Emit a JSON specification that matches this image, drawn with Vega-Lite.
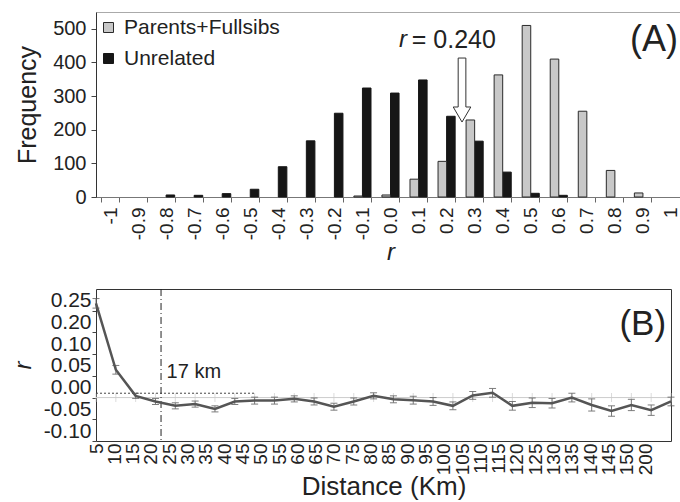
{
  "$schema": "https://vega.github.io/schema/vega-lite/v6.json",
  "padding": {"left": 10, "top": 11, "right": 0, "bottom": 0},
  "config": {"font": "Liberation Sans", "view": {"stroke": null}},
  "spacing": 22,
  "vconcat": [
    {
      "width": 589,
      "height": 185,
      "view": {"stroke": "#aaaaaa"},
      "resolve": {"scale": {"x": "independent"}, "axis": {"x": "independent", "y": "independent"}},
      "layer": [
        {
          "data": {"values": [
            {"bin": "-0.8", "group": "Unrelated", "freq": 6},
            {"bin": "-0.7", "group": "Unrelated", "freq": 5},
            {"bin": "-0.6", "group": "Unrelated", "freq": 10},
            {"bin": "-0.5", "group": "Unrelated", "freq": 23},
            {"bin": "-0.4", "group": "Unrelated", "freq": 90},
            {"bin": "-0.3", "group": "Unrelated", "freq": 167},
            {"bin": "-0.2", "group": "Unrelated", "freq": 249},
            {"bin": "-0.1", "group": "Unrelated", "freq": 324},
            {"bin": "0.0", "group": "Unrelated", "freq": 309},
            {"bin": "0.1", "group": "Unrelated", "freq": 348},
            {"bin": "0.2", "group": "Unrelated", "freq": 240},
            {"bin": "0.3", "group": "Unrelated", "freq": 166},
            {"bin": "0.4", "group": "Unrelated", "freq": 74},
            {"bin": "0.5", "group": "Unrelated", "freq": 11},
            {"bin": "0.6", "group": "Unrelated", "freq": 5},
            {"bin": "-0.1", "group": "Parents+Fullsibs", "freq": 3},
            {"bin": "0.0", "group": "Parents+Fullsibs", "freq": 6},
            {"bin": "0.1", "group": "Parents+Fullsibs", "freq": 53},
            {"bin": "0.2", "group": "Parents+Fullsibs", "freq": 106},
            {"bin": "0.3", "group": "Parents+Fullsibs", "freq": 229},
            {"bin": "0.4", "group": "Parents+Fullsibs", "freq": 363},
            {"bin": "0.5", "group": "Parents+Fullsibs", "freq": 510},
            {"bin": "0.6", "group": "Parents+Fullsibs", "freq": 410},
            {"bin": "0.7", "group": "Parents+Fullsibs", "freq": 255},
            {"bin": "0.8", "group": "Parents+Fullsibs", "freq": 79},
            {"bin": "0.9", "group": "Parents+Fullsibs", "freq": 12}
          ]},
          "mark": {"type": "bar", "strokeWidth": 1},
          "encoding": {
            "x": {
              "field": "bin", "type": "nominal",
              "scale": {"domain": ["-1","-0.9","-0.8","-0.7","-0.6","-0.5","-0.4","-0.3","-0.2","-0.1","0.0","0.1","0.2","0.3","0.4","0.5","0.6","0.7","0.8","0.9","1"], "paddingInner": 0.39, "paddingOuter": 0.195},
              "axis": {"labelAngle": 270, "labelFontSize": 19, "labelColor": "#222", "labelPadding": 5, "labelOverlap": false, "tickBand": "extent", "tickSize": 5, "tickColor": "#666", "domainColor": "#777", "title": "r", "titleFontStyle": "italic", "titleFontSize": 24, "titleFontWeight": "normal", "titleColor": "#222", "titlePadding": 1}
            },
            "xOffset": {"field": "group", "type": "nominal", "scale": {"domain": ["Parents+Fullsibs", "Unrelated"], "paddingInner": 0, "paddingOuter": 0}},
            "y": {
              "field": "freq", "type": "quantitative",
              "scale": {"domain": [0, 550], "nice": false},
              "axis": {"values": [0, 100, 200, 300, 400, 500], "labelOverlap": false, "labelFlush": false, "labelFontSize": 20, "labelColor": "#222", "labelPadding": 5, "tickSize": 5, "tickColor": "#444", "domainColor": "#333", "grid": false, "title": "Frequency", "titleFontSize": 25, "titleFontWeight": "normal", "titleColor": "#222", "titlePadding": 12}
            },
            "fill": {
              "field": "group", "type": "nominal",
              "scale": {"domain": ["Parents+Fullsibs", "Unrelated"], "range": ["#c8c8c8", "#161616"]},
              "legend": {"orient": "none", "legendX": 2, "legendY": 5, "title": null, "symbolType": "square", "symbolSize": 100, "symbolStrokeColor": "#333", "symbolStrokeWidth": 1, "labelFontSize": 21, "labelColor": "#222", "labelOffset": 5, "rowPadding": 9, "padding": 0}
            },
            "stroke": {
              "field": "group", "type": "nominal",
              "scale": {"domain": ["Parents+Fullsibs", "Unrelated"], "range": ["#2a2a2a", "#161616"]},
              "legend": null
            }
          }
        },
        {
          "data": {"values": [{"rv": 0.255, "f": 318}]},
          "mark": {"type": "point", "shape": "M-0.12,-1L0.12,-1L0.12,0.53L0.275,0.53L0,1L-0.275,0.53L-0.12,0.53Z", "size": 4096, "filled": true, "fill": "white", "stroke": "#333", "strokeWidth": 1, "opacity": 1},
          "encoding": {
            "x": {"field": "rv", "type": "quantitative", "scale": {"domain": [-1.05, 1.05], "nice": false, "zero": false}, "axis": null},
            "y": {"field": "f", "type": "quantitative", "axis": null}
          }
        },
        {
          "data": {"values": [{"rv": 0.03, "f": 468, "t": "r"}]},
          "mark": {"type": "text", "fontSize": 24, "fontStyle": "italic", "align": "left", "baseline": "middle", "color": "#222"},
          "encoding": {
            "x": {"field": "rv", "type": "quantitative", "scale": {"domain": [-1.05, 1.05], "nice": false, "zero": false}, "axis": null},
            "y": {"field": "f", "type": "quantitative", "axis": null},
            "text": {"field": "t"}
          }
        },
        {
          "data": {"values": [{"rv": 0.076, "f": 468, "t": "= 0.240"}]},
          "mark": {"type": "text", "fontSize": 25, "align": "left", "baseline": "middle", "color": "#222"},
          "encoding": {
            "x": {"field": "rv", "type": "quantitative", "scale": {"domain": [-1.05, 1.05], "nice": false, "zero": false}, "axis": null},
            "y": {"field": "f", "type": "quantitative", "axis": null},
            "text": {"field": "t"}
          }
        },
        {
          "data": {"values": [{"rv": 1.025, "f": 468, "t": "(A)"}]},
          "mark": {"type": "text", "fontSize": 36, "align": "right", "baseline": "middle", "color": "#222"},
          "encoding": {
            "x": {"field": "rv", "type": "quantitative", "scale": {"domain": [-1.05, 1.05], "nice": false, "zero": false}, "axis": null},
            "y": {"field": "f", "type": "quantitative", "axis": null},
            "text": {"field": "t"}
          }
        }
      ]
    },
    {
      "width": 575,
      "height": 152,
      "view": {"stroke": "#333"},
      "resolve": {"axis": {"x": "independent", "y": "independent"}},
      "layer": [
        {
          "data": {"name": "corr"},
          "mark": {"type": "line", "color": "#555555", "strokeWidth": 2.5, "opacity": 0},
          "encoding": {
            "x": {
              "field": "cls", "type": "quantitative",
              "scale": {"domain": [0, 29], "nice": false, "zero": false},
              "axis": {
                "values": [0, 0.9231, 1.8462, 2.7692, 3.6923, 4.6154, 5.5385, 6.4615, 7.3846, 8.3077, 9.2308, 10.1538, 11.0769, 12, 12.9231, 13.8462, 14.7692, 15.6923, 16.6154, 17.5385, 18.4615, 19.3846, 20.3077, 21.2308, 22.1538, 23.0769, 24, 24.9231, 25.8462, 26.7692, 27.6923],
                "labelExpr": "round(datum.value / 0.9231) >= 30 ? '200' : '' + (5 * (round(datum.value / 0.9231) + 1))",
                "labelAngle": 270, "labelFontSize": 19, "labelColor": "#222", "labelPadding": 2, "labelOverlap": false, "labelFlush": false,
                "ticks": false, "domain": false, "grid": false,
                "title": "Distance (Km)", "titleFontSize": 26, "titleFontWeight": "normal", "titleColor": "#222", "titlePadding": -1
              }
            },
            "y": {
              "field": "r", "type": "quantitative",
              "scale": {"domain": [-0.1, 0.25], "nice": false},
              "axis": {
                "values": [-0.1, -0.05, 0, 0.05, 0.1, 0.15, 0.2],
                "labelExpr": "datum.value < -0.07 ? '-0.10' : datum.value < -0.02 ? '-0.05' : datum.value < 0.02 ? '0.00' : datum.value < 0.07 ? '0.05' : datum.value < 0.12 ? '0.10' : datum.value < 0.17 ? '0.20' : '0.25'",
                "labelFontSize": 21, "labelColor": "#222", "labelOffset": -10, "labelPadding": 1, "labelFlush": false, "labelOverlap": false,
                "tickSize": 4, "tickColor": "#444", "domain": false, "grid": false,
                "title": "r", "titleFontStyle": "italic", "titleFontSize": 24, "titleFontWeight": "normal", "titleColor": "#222", "titlePadding": 8
              }
            }
          }
        },
        {
          "data": {"values": [{"zero": 0}]},
          "mark": {"type": "rule", "color": "#cccccc", "strokeWidth": 1},
          "encoding": {"y": {"field": "zero", "type": "quantitative", "axis": null}}
        },
        {
          "data": {"name": "corr"},
          "mark": {"type": "tick", "orient": "vertical", "size": 9, "thickness": 1, "color": "#cccccc"},
          "encoding": {
            "x": {"field": "cls", "type": "quantitative", "axis": null},
            "y": {"datum": 0, "type": "quantitative", "axis": null}
          }
        },
        {
          "data": {"values": [{"a": 0, "b": 8, "lvl": 0.01}]},
          "mark": {"type": "rule", "color": "#444", "strokeDash": [2, 2], "strokeWidth": 1},
          "encoding": {
            "x": {"field": "a", "type": "quantitative", "axis": null},
            "x2": {"field": "b"},
            "y": {"field": "lvl", "type": "quantitative", "axis": null}
          }
        },
        {
          "data": {"values": [{"pos": 3.28}]},
          "mark": {"type": "rule", "color": "#222", "strokeDash": [7, 3, 1, 3], "strokeWidth": 1},
          "encoding": {"x": {"field": "pos", "type": "quantitative", "axis": null}}
        },
        {
          "data": {"name": "corr"},
          "mark": {"type": "errorbar", "ticks": {"size": 7, "color": "#444"}, "rule": {"color": "#777", "strokeWidth": 1}},
          "encoding": {
            "x": {"field": "cls", "type": "quantitative", "axis": null},
            "y": {"field": "r", "type": "quantitative", "axis": null},
            "yError": {"field": "se"}
          }
        },
        {
          "data": {"name": "corr"},
          "mark": {"type": "line", "color": "#555555", "strokeWidth": 2.5},
          "encoding": {
            "x": {"field": "cls", "type": "quantitative", "axis": null},
            "y": {"field": "r", "type": "quantitative", "axis": null}
          }
        },
        {
          "data": {"values": [{"cls": 3.56, "r": 0.06, "t": "17 km"}]},
          "mark": {"type": "text", "fontSize": 20, "align": "left", "baseline": "middle", "color": "#222"},
          "encoding": {
            "x": {"field": "cls", "type": "quantitative", "axis": null},
            "y": {"field": "r", "type": "quantitative", "axis": null},
            "text": {"field": "t"}
          }
        },
        {
          "data": {"values": [{"cls": 28.75, "r": 0.17, "t": "(B)"}]},
          "mark": {"type": "text", "fontSize": 35, "align": "right", "baseline": "middle", "color": "#222"},
          "encoding": {
            "x": {"field": "cls", "type": "quantitative", "axis": null},
            "y": {"field": "r", "type": "quantitative", "axis": null},
            "text": {"field": "t"}
          }
        }
      ]
    }
  ],
  "datasets": {
    "corr": [
      {"cls": 0, "km": "5", "r": 0.217, "se": 0.011},
      {"cls": 1, "km": "10", "r": 0.064, "se": 0.010},
      {"cls": 2, "km": "15", "r": 0.004, "se": 0.006},
      {"cls": 3, "km": "20", "r": -0.009, "se": 0.007},
      {"cls": 4, "km": "25", "r": -0.019, "se": 0.007},
      {"cls": 5, "km": "30", "r": -0.015, "se": 0.007},
      {"cls": 6, "km": "35", "r": -0.026, "se": 0.007},
      {"cls": 7, "km": "40", "r": -0.009, "se": 0.007},
      {"cls": 8, "km": "45", "r": -0.007, "se": 0.008},
      {"cls": 9, "km": "50", "r": -0.007, "se": 0.008},
      {"cls": 10, "km": "55", "r": -0.003, "se": 0.007},
      {"cls": 11, "km": "60", "r": -0.009, "se": 0.008},
      {"cls": 12, "km": "65", "r": -0.021, "se": 0.008},
      {"cls": 13, "km": "70", "r": -0.009, "se": 0.008},
      {"cls": 14, "km": "75", "r": 0.004, "se": 0.007},
      {"cls": 15, "km": "80", "r": -0.004, "se": 0.008},
      {"cls": 16, "km": "85", "r": -0.006, "se": 0.009},
      {"cls": 17, "km": "90", "r": -0.009, "se": 0.009},
      {"cls": 18, "km": "95", "r": -0.019, "se": 0.009},
      {"cls": 19, "km": "100", "r": 0.005, "se": 0.009},
      {"cls": 20, "km": "105", "r": 0.011, "se": 0.010},
      {"cls": 21, "km": "110", "r": -0.019, "se": 0.010},
      {"cls": 22, "km": "115", "r": -0.012, "se": 0.011},
      {"cls": 23, "km": "120", "r": -0.013, "se": 0.011},
      {"cls": 24, "km": "125", "r": 0.000, "se": 0.010},
      {"cls": 25, "km": "130", "r": -0.017, "se": 0.014},
      {"cls": 26, "km": "135", "r": -0.031, "se": 0.012},
      {"cls": 27, "km": "140", "r": -0.017, "se": 0.013},
      {"cls": 28, "km": "145", "r": -0.029, "se": 0.012},
      {"cls": 29, "km": "150", "r": -0.009, "se": 0.010}
    ]
  }
}
